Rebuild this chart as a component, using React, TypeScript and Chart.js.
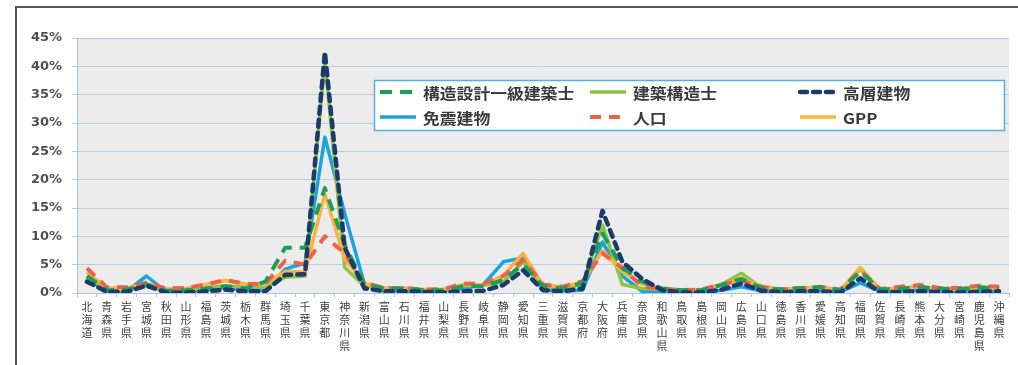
import React, { useEffect, useRef } from "react";
import { Chart, registerables } from "chart.js";

Chart.register(...registerables);

const prefectures = [
  "北海道", "青森県", "岩手県", "宮城県", "秋田県", "山形県", "福島県", "茨城県", "栃木県", "群馬県",
  "埼玉県", "千葉県", "東京都", "神奈川県", "新潟県", "富山県", "石川県", "福井県", "山梨県", "長野県",
  "岐阜県", "静岡県", "愛知県", "三重県", "滋賀県", "京都府", "大阪府", "兵庫県", "奈良県", "和歌山県",
  "鳥取県", "島根県", "岡山県", "広島県", "山口県", "徳島県", "香川県", "愛媛県", "高知県", "福岡県",
  "佐賀県", "長崎県", "熊本県", "大分県", "宮崎県", "鹿児島県", "沖縄県",
];

const seriesNames = ["構造設計一級建築士", "建築構造士", "高層建物", "免震建物", "人口", "GPP"];

// values in %
const kozoSekkei = [
  3.0, 0.5, 0.6, 1.5, 0.4, 0.5, 0.8, 1.2, 0.8, 2.0,
  8.0, 8.0, 18.5, 8.5, 1.5, 0.8, 0.8, 0.5, 0.5, 1.2,
  1.2, 2.3, 5.0, 1.2, 0.8, 1.8, 10.5, 4.5, 2.0, 0.8,
  0.5, 0.5, 1.4, 2.5, 0.9, 0.6, 0.9, 1.0, 0.5, 3.8,
  0.6, 0.8, 1.0, 0.8, 0.7, 1.0, 0.8,
];
const kenchikuKozo = [
  2.8, 0.6, 0.5, 1.2, 0.4, 0.5, 0.9, 1.3, 1.0, 1.0,
  2.8, 3.0, 41.0, 4.5, 1.2, 0.8, 0.8, 0.5, 0.6, 1.3,
  1.3, 2.0, 5.5, 1.0, 0.8, 1.5, 12.0, 1.5, 0.8, 0.6,
  0.5, 0.5, 1.5, 3.5, 1.0, 0.6, 0.9, 1.0, 0.5, 4.2,
  0.6, 0.8, 1.1, 0.8, 0.6, 1.0, 0.8,
];
const koso = [
  2.0, 0.2, 0.2, 1.3, 0.1, 0.1, 0.3, 0.6, 0.3, 0.3,
  3.2, 3.3, 42.5, 8.0, 0.8, 0.3, 0.3, 0.2, 0.1, 0.3,
  0.4, 1.4, 4.0, 0.5, 0.3, 0.8, 14.5, 5.5, 2.5, 0.5,
  0.1, 0.1, 0.6, 1.7, 0.4, 0.1, 0.3, 0.3, 0.1, 2.6,
  0.1, 0.2, 0.3, 0.2, 0.1, 0.2, 0.3,
];
const menshin = [
  2.5, 0.2, 0.3, 3.0, 0.2, 0.2, 0.5, 1.0, 0.4, 0.5,
  4.2, 5.3, 27.5, 14.0, 1.5, 0.3, 0.4, 0.2, 0.4, 0.8,
  1.5, 5.5, 6.2, 0.5, 0.4, 0.5, 9.0, 3.0, 0.3, 0.2,
  0.1, 0.1, 0.5, 1.1, 0.4, 0.2, 0.3, 0.5, 0.2, 1.8,
  0.3, 0.4, 0.5, 0.4, 0.3, 0.4, 0.3,
];
const jinko = [
  4.4, 1.0, 1.0, 1.8, 0.8, 0.9, 1.5, 2.3, 1.6, 1.6,
  5.7, 5.0, 10.0, 7.0, 1.8, 0.9, 0.9, 0.6, 0.7, 1.7,
  1.6, 3.0, 5.8, 1.5, 1.1, 2.1, 7.0, 4.4, 1.1, 0.8,
  0.5, 0.6, 1.5, 2.2, 1.1, 0.6, 0.8, 1.1, 0.6, 4.0,
  0.7, 1.1, 1.4, 0.9, 0.9, 1.3, 1.1,
];
const gpp = [
  3.7, 0.9, 0.9, 1.7, 0.7, 0.8, 1.5, 2.2, 1.6, 1.5,
  3.8, 3.7, 17.5, 6.0, 1.7, 0.9, 0.9, 0.6, 0.6, 1.5,
  1.4, 3.1, 7.0, 1.4, 1.1, 1.9, 7.5, 3.8, 1.6, 0.7,
  0.5, 0.6, 1.4, 2.6, 1.2, 0.7, 0.8, 1.0, 0.5, 4.5,
  0.6, 0.9, 1.1, 0.8, 0.7, 1.1, 0.8,
];

const yMax = 45;
const yStep = 5;

const backgroundPlugin = {
  id: "bgFrame",
  beforeDraw(chart: any) {
    const { ctx, chartArea, width, height } = chart;
    ctx.save();
    ctx.fillStyle = "#ffffff";
    ctx.fillRect(0, 0, width, height);
    ctx.fillStyle = "#ececec";
    ctx.fillRect(chartArea.left, chartArea.top, chartArea.right - chartArea.left, chartArea.bottom - chartArea.top);
    ctx.strokeStyle = "#555555";
    ctx.lineWidth = 2;
    ctx.beginPath();
    ctx.moveTo(16, height);
    ctx.lineTo(16, 7);
    ctx.lineTo(width, 7);
    ctx.stroke();
    ctx.restore();
  },
};

const boxLegendPlugin = {
  id: "boxLegend",
  afterDatasetsDraw(chart: any) {
    const { ctx } = chart;
    const bx = 374, by = 80, bw = 630, bh = 50;
    ctx.save();
    ctx.fillStyle = "#ffffff";
    ctx.fillRect(bx, by, bw, bh);
    ctx.strokeStyle = "#5aaee6";
    ctx.lineWidth = 1.5;
    ctx.strokeRect(bx + 0.5, by + 0.5, bw, bh);
    chart.data.datasets.forEach((ds: any, i: number) => {
      const col = i % 3;
      const row = Math.floor(i / 3);
      const lx = bx + 6 + col * 210;
      const ly = by + 12 + row * 25;
      ctx.strokeStyle = ds.borderColor;
      ctx.lineWidth = ds.borderWidth;
      ctx.setLineDash(ds.borderDash || []);
      ctx.lineCap = ds.borderCapStyle || "butt";
      ctx.beginPath();
      ctx.moveTo(lx, ly);
      ctx.lineTo(lx + 36, ly);
      ctx.stroke();
      ctx.setLineDash([]);
      ctx.fillStyle = "#3a3a3a";
      ctx.font = 'bold 15px "Noto Sans CJK JP"';
      ctx.textBaseline = "middle";
      ctx.textAlign = "left";
      ctx.save();
      ctx.translate(lx + 43, ly + 1);
      ctx.scale(1.12, 1);
      ctx.fillText(ds.label, 0, 0);
      ctx.restore();
    });
    ctx.restore();
  },
};

export default function App() {
  const canvasRef = useRef<HTMLCanvasElement | null>(null);

  useEffect(() => {
    const canvas = canvasRef.current;
    if (!canvas) return;
    const common = { pointRadius: 0, pointHoverRadius: 0, fill: false, tension: 0, borderJoinStyle: "round" };
    const chart = new Chart(canvas, {
      type: "line",
      data: {
        labels: prefectures.map((p) => p.split("")),
        datasets: [
          { ...common, label: seriesNames[0], data: kozoSekkei, borderColor: "#1f9e58", borderWidth: 4, borderDash: [12, 8], order: 1 },
          { ...common, label: seriesNames[1], data: kenchikuKozo, borderColor: "#8cc63f", borderWidth: 3.5, order: 4 },
          { ...common, label: seriesNames[2], data: koso, borderColor: "#1d3a6b", borderWidth: 4.5, borderDash: [7, 6], borderCapStyle: "round", order: 0 },
          { ...common, label: seriesNames[3], data: menshin, borderColor: "#1ca3de", borderWidth: 3.5, order: 5 },
          { ...common, label: seriesNames[4], data: jinko, borderColor: "#f0604a", borderWidth: 4, borderDash: [11, 8], order: 2 },
          { ...common, label: seriesNames[5], data: gpp, borderColor: "#fbb33b", borderWidth: 3.5, order: 3 },
        ] as any,
      },
      options: {
        responsive: false,
        animation: false,
        events: [],
        layout: { padding: { left: 16, top: 38, right: 9, bottom: 7 } },
        plugins: { legend: { display: false }, tooltip: { enabled: false }, title: { display: false } },
        scales: {
          x: {
            type: "category",
            offset: true,
            afterFit: (s: any) => { s.height = 65; },
            grid: { offset: true, drawOnChartArea: false, drawTicks: true, tickLength: 4, color: "#a9c6de" },
            border: { color: "#a9c6de", width: 1 },
            ticks: {
              autoSkip: false,
              maxRotation: 0,
              minRotation: 0,
              padding: 3,
              color: "#404040",
              font: { family: '"Noto Sans CJK JP"', size: 11, lineHeight: 1.2 },
            },
          },
          y: {
            min: 0,
            max: yMax,
            afterFit: (s: any) => { s.width = 61; },
            grid: { color: "#b7cde0", lineWidth: 1, tickLength: 5 },
            border: { color: "#a9c6de", width: 1 },
            ticks: {
              stepSize: yStep,
              padding: 10,
              color: "#505050",
              font: { family: '"DejaVu Sans", sans-serif', size: 13, weight: "bold" },
              callback: (v: any) => `${v}%`,
            },
          },
        },
      },
      plugins: [backgroundPlugin, boxLegendPlugin],
    } as any);
    return () => chart.destroy();
  }, []);

  return (
    <div style={{ position: "absolute", left: 0, top: 0, width: 1018, height: 365 }}>
      <canvas ref={canvasRef} width={1018} height={365} style={{ display: "block", width: 1018, height: 365 }} />
    </div>
  );
}
